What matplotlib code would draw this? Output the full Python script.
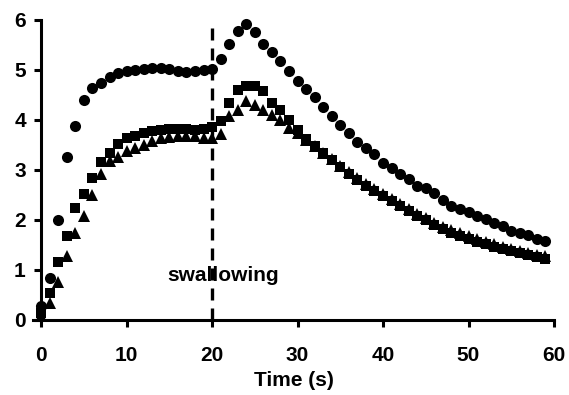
import matplotlib
matplotlib.use("Agg")
import matplotlib.pyplot as plt
import numpy as np

plt.rcParams['font.family'] = ['Liberation Sans', 'DejaVu Sans']
plt.rcParams['font.weight'] = 'bold'

# time in seconds, one sample per second
t = np.arange(0, 60)

circles = [0.27, 0.83, 2.0, 3.25, 3.87, 4.4, 4.63, 4.73, 4.85, 4.93,
           4.97, 5.0, 5.02, 5.04, 5.03, 5.01, 4.98, 4.96, 4.97, 4.99,
           5.02, 5.21, 5.51, 5.77, 5.92, 5.75, 5.52, 5.35, 5.17, 4.97,
           4.78, 4.61, 4.45, 4.25, 4.07, 3.89, 3.73, 3.55, 3.43, 3.32,
           3.13, 3.03, 2.92, 2.81, 2.68, 2.63, 2.53, 2.39, 2.28, 2.21,
           2.15, 2.07, 2.01, 1.93, 1.87, 1.78, 1.73, 1.69, 1.61, 1.57]

squares = [0.13, 0.53, 1.15, 1.67, 2.23, 2.52, 2.83, 3.15, 3.33, 3.52,
           3.63, 3.68, 3.73, 3.77, 3.8, 3.82, 3.82, 3.81, 3.8, 3.82,
           3.86, 3.97, 4.33, 4.6, 4.67, 4.67, 4.58, 4.33, 4.2, 4.0,
           3.8, 3.62, 3.48, 3.33, 3.19, 3.05, 2.92, 2.8, 2.68, 2.57,
           2.47, 2.37, 2.27, 2.17, 2.08, 1.99, 1.9, 1.81, 1.74, 1.68,
           1.62, 1.56, 1.51, 1.46, 1.41, 1.37, 1.33, 1.29, 1.25, 1.22]

triangles = [0.08, 0.33, 0.75, 1.27, 1.73, 2.08, 2.5, 2.92, 3.17, 3.25,
             3.37, 3.43, 3.5, 3.58, 3.63, 3.66, 3.68, 3.68, 3.67, 3.63,
             3.63, 3.72, 4.07, 4.2, 4.37, 4.3, 4.2, 4.1, 4.0, 3.83,
             3.74, 3.6, 3.47, 3.34, 3.21, 3.08, 2.95, 2.83, 2.72, 2.61,
             2.51, 2.41, 2.31, 2.21, 2.12, 2.03, 1.94, 1.86, 1.79, 1.73,
             1.67, 1.61, 1.56, 1.51, 1.46, 1.42, 1.38, 1.34, 1.3, 1.27]

swallow_t = 20

fig = plt.figure(figsize=(5.69, 3.95), dpi=100)
ax = fig.add_axes([0.058, 0.19, 0.9156, 0.7595])

ax.plot(t, circles, 'o', color='black', markersize=8, markeredgewidth=0,
        clip_on=False)
ax.plot(t, squares, 's', color='black', markersize=7.3, markeredgewidth=0,
        clip_on=False)
ax.plot(t, triangles, '^', color='black', markersize=8.6, markeredgewidth=0,
        clip_on=False)

ax.axvline(swallow_t, ymin=0, ymax=0.985, color='black', lw=2.4,
           dashes=(3.6, 2.4))
ax.text(21.3, 0.88, 'swallowing', ha='center', va='center',
        fontsize=15, fontweight='bold')

ax.set_xlim(-0.95, 60)
ax.set_ylim(0, 6)
ax.set_xticks([0, 10, 20, 30, 40, 50, 60])
ax.set_yticks([0, 1, 2, 3, 4, 5, 6])

ax.spines['top'].set_visible(False)
ax.spines['right'].set_visible(False)
ax.spines['left'].set_position(('data', 0))
ax.spines['left'].set_linewidth(2.2)
ax.spines['bottom'].set_linewidth(2.2)

ax.tick_params(axis='x', direction='out', length=5, width=2.2,
               labelsize=15, pad=14)
ax.tick_params(axis='y', direction='out', length=5, width=2.2,
               labelsize=15, pad=6)
for lab in ax.get_xticklabels() + ax.get_yticklabels():
    lab.set_fontweight('bold')

ax.set_xlabel('Time (s)', fontsize=15, fontweight='bold', labelpad=4)

fig.savefig('out.png', dpi=100)
